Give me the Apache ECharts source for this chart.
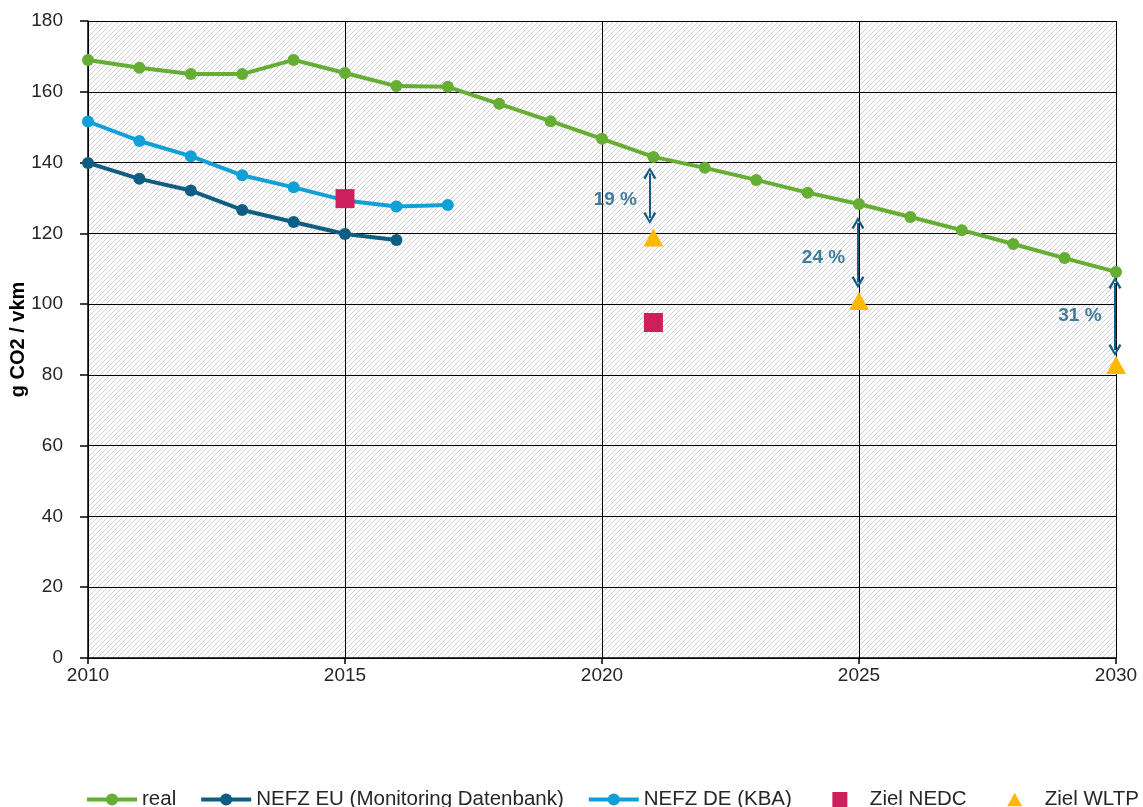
<!DOCTYPE html>
<html>
<head>
<meta charset="utf-8">
<script src="https://cdn.jsdelivr.net/npm/echarts@6/dist/echarts.min.js"></script>
<style>
  html, body { margin: 0; padding: 0; background: #fff; }
  #chart { width: 1143px; height: 807px; }
</style>
</head>
<body>
<div id="chart"></div>
<script>
// data
const realYears = [2010, 2011, 2012, 2013, 2014, 2015, 2016, 2017, 2018, 2019, 2020,
                   2021, 2022, 2023, 2024, 2025, 2026, 2027, 2028, 2029, 2030];
const realValues = [169.0, 166.8, 165.0, 165.0, 169.0, 165.3, 161.6, 161.4, 156.6, 151.7, 146.7,
                    141.6, 138.5, 135.1, 131.5, 128.3, 124.6, 120.9, 117.0, 113.0, 109.1];
const euYears = [2010, 2011, 2012, 2013, 2014, 2015, 2016];
const euValues = [139.9, 135.4, 132.1, 126.6, 123.2, 119.8, 118.1];
const deYears = [2010, 2011, 2012, 2013, 2014, 2015, 2016, 2017];
const deValues = [151.6, 146.1, 141.8, 136.4, 133.0, 129.3, 127.6, 128.0];
const nedcYears = [2015, 2021];
const nedcValues = [129.8, 94.8];
const wltpYears = [2021, 2025, 2030];
const wltpValues = [118.8, 100.9, 82.8];
// gap arrows: x, from, to
const gapX = [2020.93, 2024.98, 2029.98];
const gapFrom = [137.0, 122.9, 106.0];
const gapTo = [124.3, 106.2, 87.0];
const gapLabels = ['19 %', '24 %', '31 %'];
const gapLabelX = [2020.68, 2024.73, 2029.72];
const gapLabelY = [129.4, 113.0, 96.6];

function pairs(xs, ys) {
    return xs.map((x, i) => [x, ys[i]]);
}

// hatched plot background
const tile = document.createElement('canvas');
tile.width = 5;
tile.height = 5;
const tc = tile.getContext('2d');
tc.fillStyle = '#ffffff';
tc.fillRect(0, 0, 5, 5);
tc.strokeStyle = '#d0d0d0';
tc.lineWidth = 1;
tc.beginPath();
tc.moveTo(-1, 6); tc.lineTo(6, -1);
tc.moveTo(-1, 1); tc.lineTo(1, -1);
tc.moveTo(4, 6); tc.lineTo(6, 4);
tc.stroke();

const FONT = '"Liberation Sans", Arial, sans-serif';
const arrowHead = 'path://M0,10 L5,0 L10,10 L8.3,11 L5,3.6 L1.7,11 Z';
// legend marks padded with empty points so they sit centred in a 50px slot
const squareIcon = 'path://M-11.67,5 L-11.67,5 Z M0,0 L10,0 L10,10 L0,10 Z M21.67,5 L21.67,5 Z';
const triangleIcon = 'path://M-11.67,5 L-11.67,5 Z M5,0.5 L10,9.5 L0,9.5 Z M21.67,5 L21.67,5 Z';

const chart = echarts.init(document.getElementById('chart'));
const option = {
    animation: false,
    textStyle: { fontFamily: FONT },
    grid: {
        left: 88, right: 27, top: 21, bottom: 149,
        show: true,
        borderWidth: 0,
        containLabel: false,
        outerBoundsMode: 'none',
        backgroundColor: { image: tile, repeat: 'repeat' }
    },
    legend: {
        data: [
            { name: 'real' },
            { name: 'NEFZ EU (Monitoring Datenbank)' },
            { name: 'NEFZ DE (KBA)' },
            { name: 'Ziel NEDC', icon: squareIcon },
            { name: 'Ziel WLTP', icon: triangleIcon }
        ],
        left: 85,
        top: 789,
        padding: 0,
        itemWidth: 50,
        itemHeight: 15,
        itemGap: 23,
        symbolKeepAspect: true,
        lineStyle: { width: 4 },
        textStyle: { fontSize: 20.5, color: '#262626', fontFamily: FONT }
    },
    xAxis: {
        type: 'value',
        min: 2010,
        max: 2030,
        interval: 5,
        axisLine: { lineStyle: { color: '#000', width: 1.5 } },
        axisTick: { show: true, length: 6, lineStyle: { color: '#000', width: 1.5 } },
        axisLabel: { fontSize: 19, color: '#262626', margin: 8, formatter: v => String(v) },
        splitLine: { show: true, lineStyle: { color: '#000', width: 1 } }
    },
    yAxis: {
        type: 'value',
        min: 0,
        max: 180,
        interval: 20,
        name: 'g CO2 / vkm',
        nameLocation: 'middle',
        nameRotate: 90,
        nameGap: 60,
        nameMoveOverlap: false,
        nameTextStyle: { fontSize: 20, fontWeight: 'bold', color: '#000' },
        axisLine: { show: true, lineStyle: { color: '#000', width: 1.5 } },
        axisTick: { show: true, length: 8, lineStyle: { color: '#000', width: 1.5 } },
        axisLabel: { fontSize: 19, color: '#262626', margin: 25 },
        splitLine: { show: true, lineStyle: { color: '#000', width: 1 } }
    },
    series: [
        {
            name: 'real',
            type: 'line',
            data: pairs(realYears, realValues),
            symbol: 'circle',
            symbolSize: 12,
            lineStyle: { width: 4, color: '#66AD34' },
            itemStyle: { color: '#66AD34' },
            z: 3
        },
        {
            name: 'NEFZ EU (Monitoring Datenbank)',
            type: 'line',
            data: pairs(euYears, euValues),
            symbol: 'circle',
            symbolSize: 12,
            lineStyle: { width: 4, color: '#0E5E83' },
            itemStyle: { color: '#0E5E83' },
            z: 3
        },
        {
            name: 'NEFZ DE (KBA)',
            type: 'line',
            data: pairs(deYears, deValues),
            symbol: 'circle',
            symbolSize: 12,
            lineStyle: { width: 4, color: '#10A0D7' },
            itemStyle: { color: '#10A0D7' },
            z: 3
        },
        {
            name: 'Ziel NEDC',
            type: 'scatter',
            data: pairs(nedcYears, nedcValues),
            symbol: 'rect',
            symbolSize: 19,
            itemStyle: { color: '#CC1F5C', opacity: 1 },
            z: 4
        },
        {
            name: 'Ziel WLTP',
            type: 'scatter',
            data: pairs(wltpYears, wltpValues),
            symbol: 'triangle',
            symbolSize: [20, 18],
            itemStyle: { color: '#FFB800', opacity: 1 },
            z: 4
        },
        {
            name: 'gap',
            type: 'scatter',
            data: gapLabelX.map((x, i) => [x, gapLabelY[i], gapLabels[i]]),
            symbolSize: 0,
            silent: true,
            label: {
                show: true,
                position: 'left',
                distance: 0,
                formatter: p => p.value[2],
                fontSize: 19,
                fontWeight: 'bold',
                color: '#125C85'
            },
            markLine: {
                silent: true,
                symbol: [arrowHead, arrowHead],
                symbolSize: [13, 12],
                label: { show: false },
                lineStyle: { type: 'solid', color: '#125C85', width: 2 },
                data: gapX.map((x, i) => [{ coord: [x, gapFrom[i]] }, { coord: [x, gapTo[i]] }])
            },
            z: 5
        }
    ]
};
chart.setOption(option);
</script>
</body>
</html>
